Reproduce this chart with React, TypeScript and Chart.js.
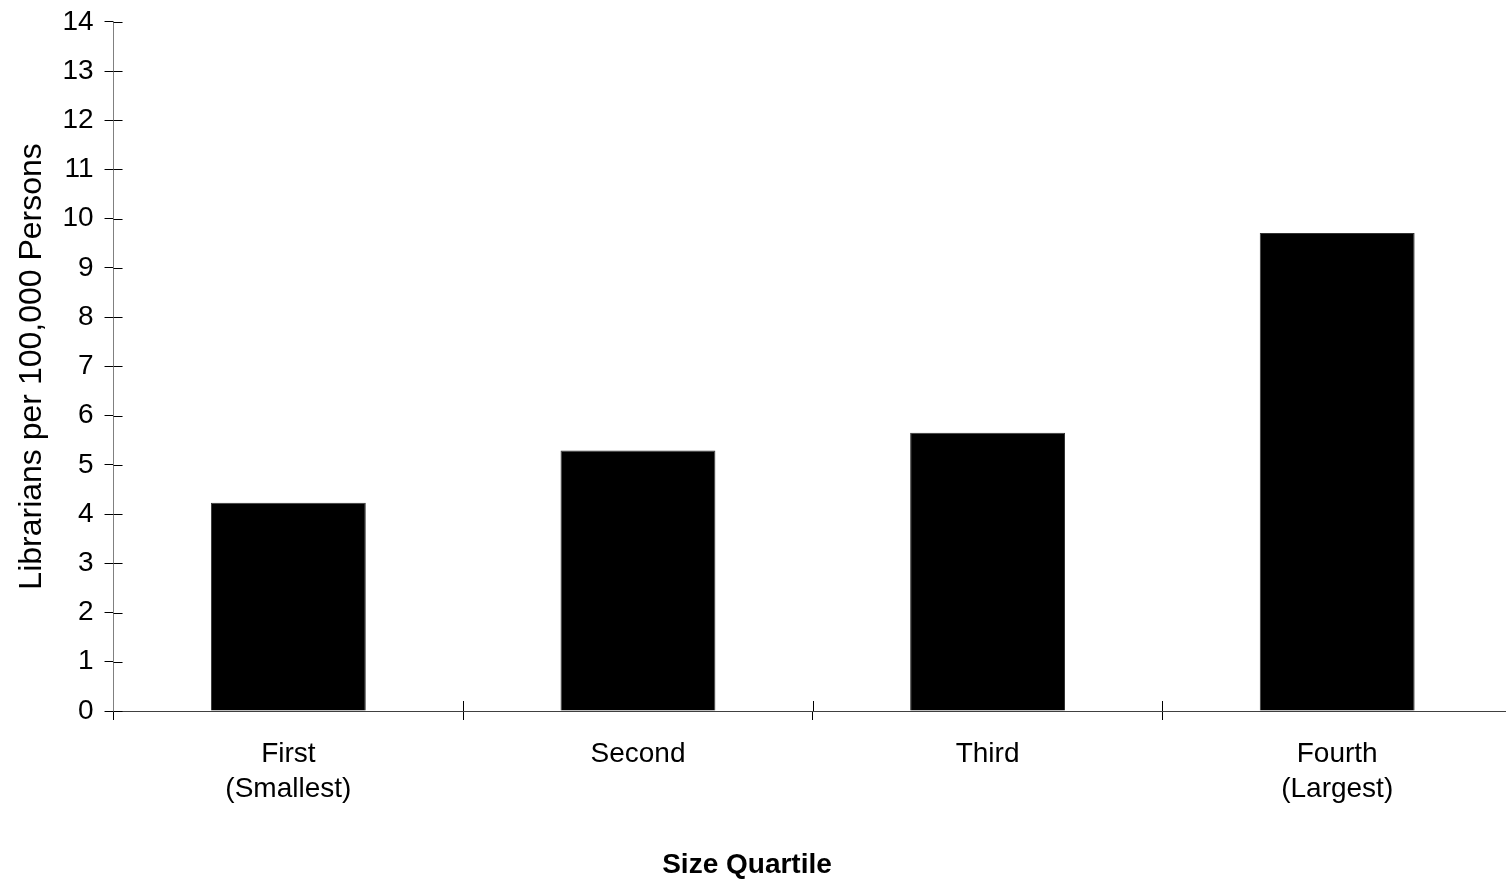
import { useEffect, useRef } from "react";
import { Chart, registerables } from "chart.js";

Chart.register(...registerables);

const categories: string[][] = [["First", "(Smallest)"], ["Second"], ["Third"], ["Fourth", "(Largest)"]];
const librariansPer100k: number[] = [4.23, 5.29, 5.65, 9.71];
const yMin = 0;
const yMax = 14;
const yStep = 1;
const yTitle = "Librarians per 100,000 Persons";
const xTitle = "Size Quartile";

const FONT = '"Liberation Sans", Arial, sans-serif';
const CANVAS_W = 1516;
const CANVAS_H = 885;
const CANVAS_SHIFT_Y = -6;
const X_TITLE_CENTER = 747;
const X_TITLE_BASELINE = 879;

const innerTicksAndTitle = {
  id: "innerTicksAndTitle",
  afterDraw(chart: any) {
    const { ctx, chartArea, scales } = chart;
    const x = scales.x;
    const y = scales.y;
    ctx.save();
    ctx.strokeStyle = "#000";
    ctx.lineWidth = 1;
    ctx.beginPath();
    y.ticks.forEach((_t: any, i: number) => {
      const py = Math.round(y.getPixelForTick(i)) + 0.5;
      ctx.moveTo(chartArea.left, py);
      ctx.lineTo(chartArea.left + 9, py);
    });
    for (let i = 1; i < x.ticks.length; i++) {
      const px = Math.round((x.getPixelForTick(i - 1) + x.getPixelForTick(i)) / 2) + 0.5;
      ctx.moveTo(px, chartArea.bottom);
      ctx.lineTo(px, chartArea.bottom - 10);
    }
    ctx.stroke();
    ctx.font = `bold 28px ${FONT}`;
    ctx.textAlign = "center";
    ctx.textBaseline = "alphabetic";
    ctx.fillStyle = "#000";
    ctx.fillText(xTitle, X_TITLE_CENTER, X_TITLE_BASELINE);
    ctx.restore();
  },
};

export default function App() {
  const ref = useRef<HTMLCanvasElement | null>(null);

  useEffect(() => {
    if (!ref.current) return;
    const chart = new Chart(ref.current, {
      type: "bar",
      data: {
        labels: categories,
        datasets: [
          {
            data: librariansPer100k,
            backgroundColor: "#000000",
            borderColor: "#333333",
            borderWidth: 1,
            barPercentage: 0.443,
            categoryPercentage: 1,
          },
        ],
      },
      options: {
        animation: false,
        responsive: false,
        devicePixelRatio: 1,
        layout: { padding: { top: 15, right: 4, bottom: 55, left: 0 } },
        plugins: {
          legend: { display: false },
          tooltip: { enabled: false },
          title: { display: false },
        },
        scales: {
          x: {
            offset: true,
            grid: {
              offset: true,
              drawOnChartArea: false,
              drawTicks: true,
              tickLength: 9,
              color: "#000",
            },
            border: { display: true, color: "#404040", width: 1 },
            ticks: {
              color: "#000",
              font: { family: FONT, size: 28, lineHeight: 1.25 },
              padding: 17,
              maxRotation: 0,
              autoSkip: false,
            },
          },
          y: {
            min: yMin,
            max: yMax,
            grid: {
              drawOnChartArea: false,
              drawTicks: true,
              tickLength: 9,
              color: "#000",
            },
            border: { display: true, color: "#808080", width: 1 },
            ticks: {
              stepSize: yStep,
              color: "#000",
              font: { family: FONT, size: 28 },
              padding: 11,
            },
            title: {
              display: true,
              text: yTitle,
              color: "#000",
              font: { family: FONT, size: 32, lineHeight: 1.2 },
              padding: { top: 13, bottom: 0 },
            },
          },
        },
      },
      plugins: [innerTicksAndTitle],
    });
    return () => chart.destroy();
  }, []);

  return (
    <div
      style={{
        position: "fixed",
        left: 0,
        top: 0,
        width: "1506px",
        height: "879px",
        overflow: "hidden",
        background: "#fff",
      }}
    >
      <canvas
        ref={ref}
        width={CANVAS_W}
        height={CANVAS_H}
        style={{
          display: "block",
          position: "absolute",
          left: 0,
          top: `${CANVAS_SHIFT_Y}px`,
          width: `${CANVAS_W}px`,
          height: `${CANVAS_H}px`,
        }}
      />
    </div>
  );
}
